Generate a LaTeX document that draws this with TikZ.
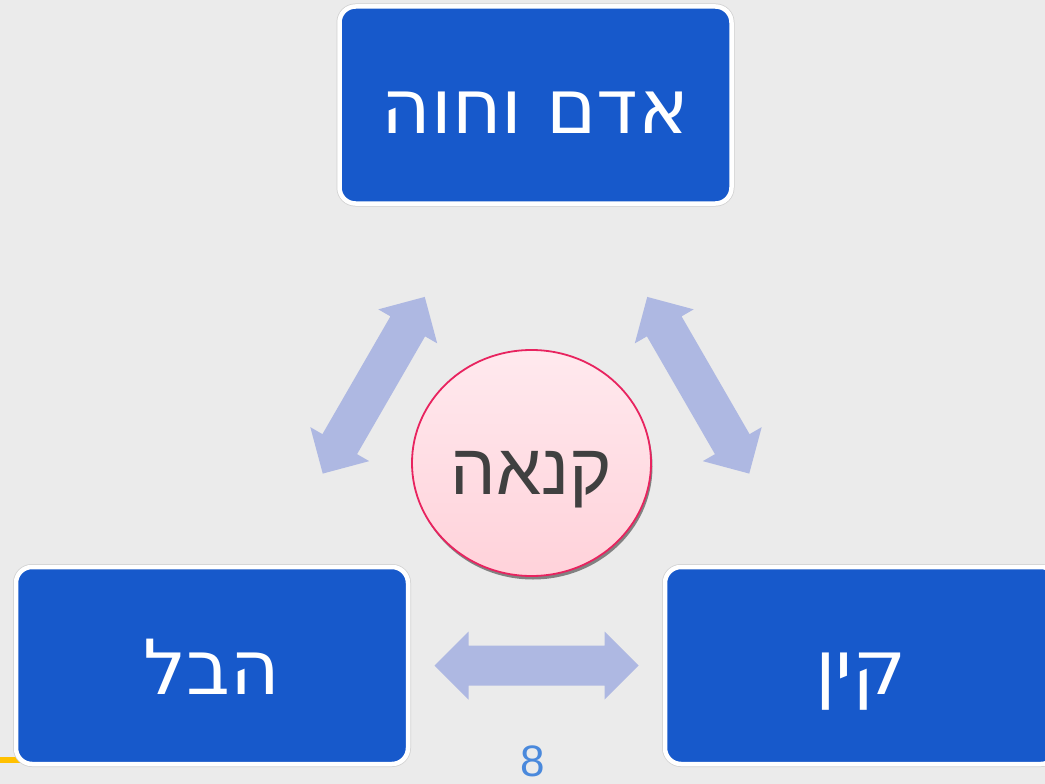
\documentclass[tikz,border=0pt]{standalone}
\usepackage{fontspec}
\setmainfont{Liberation Sans}
\newfontfamily\boxfont{DejaVu Sans}
\usetikzlibrary{shapes.geometric,shadows,calc}
\TeXXeTstate=1
\definecolor{slidegray}{HTML}{EBEBEB}
\definecolor{boxblue}{HTML}{1759CB}
\definecolor{arrowblue}{HTML}{AEB8E2}
\definecolor{kinahpink}{HTML}{FFE9EE}
\definecolor{kinahpinkdark}{HTML}{FFD2DA}
\definecolor{kinahred}{HTML}{E8235F}
\definecolor{numblue}{HTML}{4A89DC}
\definecolor{goldbar}{HTML}{FFC000}
\tikzset{
	namebox/.style={rectangle,rounded corners=16pt,fill=boxblue,draw=white,line width=4.5pt,
		minimum width=392pt,minimum height=197pt,text=white,text height=57pt,text depth=0pt,
		preaction={draw=black!18,line width=6pt},font=\boxfont\fontsize{76}{80}\selectfont},
	twoway/.style={fill=arrowblue},
}
\begin{document}
\begin{tikzpicture}[x=1pt,y=-1pt,line join=round]
	\fill[slidegray] (0,0) rectangle (1045,784);
	\useasboundingbox (0,0) rectangle (1045,784);
	\fill[goldbar] (0,757) rectangle (40,763);
	\node[namebox] (adam) at (535.5,105) {\beginR אדם וחוה\endR};
	\node[namebox] (hevel) at (212,665.5) {\beginR הבל\endR};
	\node[namebox] (kayin) at (861,665.5) {\beginR קין\endR};
	% block arrows half way between the boxes
	\foreach \a/\b/\ang in {adam/hevel/60,adam/kayin/-60,hevel/kayin/0}{
		\fill[twoway,shift={($(\a)!.5!(\b)$)},rotate=\ang]
		(-102,0)--(-68,-34)--(-68,-20)--(68,-20)--(68,-34)--(102,0)
		--(68,34)--(68,20)--(-68,20)--(-68,34)--cycle;}
	\node[ellipse,minimum width=239pt,minimum height=226pt,draw=kinahred,line width=1.8pt,
		top color=kinahpink,bottom color=kinahpinkdark,
		drop shadow={shadow xshift=1.5pt,shadow yshift=-3.5pt,fill=black,opacity=.45}]
		(kinah) at (531.5,463) {};
	\node[text=black!75,text depth=0pt,font=\fontsize{72}{76}\selectfont]
		(kinahtext) at ($(kinah.center)+(0,10)$) {\beginR קנאה\endR};
	\node[text=numblue,inner sep=0pt,font=\fontsize{44}{48}\selectfont] (pagenum) at (533,761) {8};
\end{tikzpicture}
\end{document}
